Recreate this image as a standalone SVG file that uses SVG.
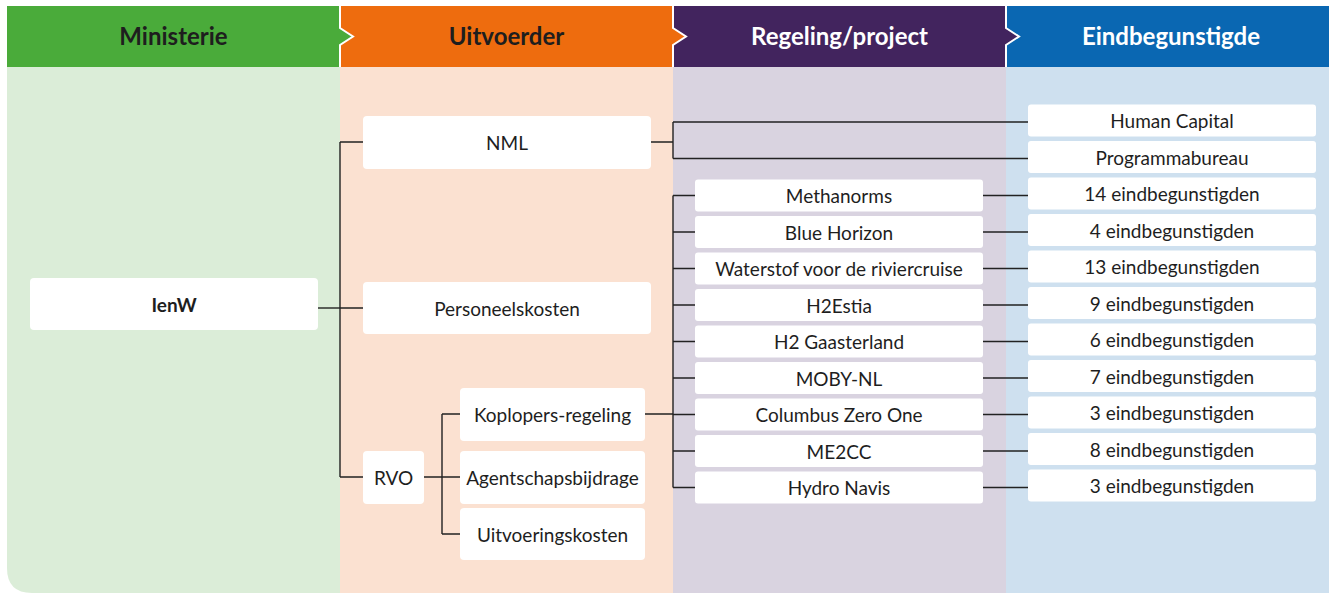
<svg xmlns="http://www.w3.org/2000/svg" width="1329" height="593" viewBox="0 0 1329 593">
<style>
.hd{font-family:Lato,"Liberation Sans",sans-serif;font-weight:bold;font-size:24px;text-anchor:middle}
.box{fill:#ffffff}
.t{font-family:Lato,"Liberation Sans",sans-serif;font-size:19px;fill:#1e1e1e;text-anchor:middle;dominant-baseline:central}
.b{font-weight:bold}
.sep{fill:none;stroke:#ffffff;stroke-width:2}
#connectors path{fill:none;stroke:#222222;stroke-width:1.4}
</style>
<!-- body backgrounds -->
<path d="M7,67 H340 V593 H32 Q7,593 7,568 Z" fill="#dbedd8"/>
<rect x="340" y="67" width="333" height="526" fill="#fbe1d1"/>
<rect x="673" y="67" width="333" height="526" fill="#d9d3e0"/>
<rect x="1006" y="67" width="323" height="526" fill="#cee0ef"/>
<!-- headers -->
<g id="header-ministerie">
<rect x="7" y="6" width="333" height="61" fill="#4aab3a"/>
<text class="hd" x="173.5" y="45" fill="#1e1e1e">Ministerie</text>
</g>
<g id="header-uitvoerder">
<rect x="340" y="6" width="333" height="61" fill="#ee6c0e"/>
<polygon points="340,28 353,36.5 340,45" fill="#4aab3a"/>
<text class="hd" x="506.5" y="45" fill="#1e1e1e">Uitvoerder</text>
</g>
<g id="header-regeling">
<rect x="673" y="6" width="333" height="61" fill="#42245e"/>
<polygon points="673,28 686,36.5 673,45" fill="#ee6c0e"/>
<text class="hd" x="839.5" y="45" fill="#ffffff">Regeling/project</text>
</g>
<g id="header-eindbegunstigde">
<rect x="1006" y="6" width="323" height="61" fill="#0a67b2"/>
<polygon points="1006,28 1019,36.5 1006,45" fill="#42245e"/>
<text class="hd" x="1171" y="45" fill="#ffffff">Eindbegunstigde</text>
</g>
<path class="sep" d="M340,6 V28 L353,36.5 L340,45 V67"/>
<path class="sep" d="M673,6 V28 L686,36.5 L673,45 V67"/>
<path class="sep" d="M1006,6 V28 L1019,36.5 L1006,45 V67"/>

<g id="connectors">
<path d="M318,308 H340"/>
<path d="M340,142 V477"/>
<path d="M340,142 H363 M340,308 H363 M340,477 H363"/>
<path d="M424,477 H442 M442,414 V534 M442,414 H460 M442,477 H460 M442,534 H460"/>
<path d="M651,142 H673 M673,122 V158.5 M673,122 H1028 M673,158.5 H1028"/>
<path d="M645,414 H673 M673,195.5 V487.5"/>
<path d="M673,195.5 H695 M673,232 H695 M673,268.5 H695 M673,305 H695 M673,341.5 H695 M673,378 H695 M673,414.5 H695 M673,451 H695 M673,487.5 H695"/>
<path d="M983,195.5 H1028 M983,232 H1028 M983,268.5 H1028 M983,305 H1028 M983,341.5 H1028 M983,378 H1028 M983,414.5 H1028 M983,451 H1028 M983,487.5 H1028"/>
</g>

<g id="ienw"><rect class="box" x="30" y="278" width="288" height="52" rx="4"/><text class="t b" x="174" y="304">IenW</text></g>
<g id="nml"><rect class="box" x="363" y="116" width="288" height="53" rx="4"/><text class="t" x="507" y="142.5">NML</text></g>
<g id="personeelskosten"><rect class="box" x="363" y="282" width="288" height="52" rx="4"/><text class="t" x="507" y="308">Personeelskosten</text></g>
<g id="rvo"><rect class="box" x="363" y="451" width="61" height="53" rx="4"/><text class="t" x="393.5" y="477.5">RVO</text></g>
<g id="koplopers"><rect class="box" x="460" y="388" width="185" height="53" rx="4"/><text class="t" x="552.5" y="414.5">Koplopers-regeling</text></g>
<g id="agentschapsbijdrage"><rect class="box" x="460" y="451" width="185" height="53" rx="4"/><text class="t" x="552.5" y="477.5">Agentschapsbijdrage</text></g>
<g id="uitvoeringskosten"><rect class="box" x="460" y="508" width="185" height="52" rx="4"/><text class="t" x="552.5" y="534">Uitvoeringskosten</text></g>

<g id="methanorms"><rect class="box" x="695" y="179.5" width="288" height="32" rx="3"/><text class="t" x="839" y="195.5">Methanorms</text></g>
<g id="blue-horizon"><rect class="box" x="695" y="216" width="288" height="32" rx="3"/><text class="t" x="839" y="232">Blue Horizon</text></g>
<g id="waterstof"><rect class="box" x="695" y="252.5" width="288" height="32" rx="3"/><text class="t" x="839" y="268.5">Waterstof voor de riviercruise</text></g>
<g id="h2estia"><rect class="box" x="695" y="289" width="288" height="32" rx="3"/><text class="t" x="839" y="305">H2Estia</text></g>
<g id="h2-gaasterland"><rect class="box" x="695" y="325.5" width="288" height="32" rx="3"/><text class="t" x="839" y="341.5">H2 Gaasterland</text></g>
<g id="moby-nl"><rect class="box" x="695" y="362" width="288" height="32" rx="3"/><text class="t" x="839" y="378">MOBY-NL</text></g>
<g id="columbus"><rect class="box" x="695" y="398.5" width="288" height="32" rx="3"/><text class="t" x="839" y="414.5">Columbus Zero One</text></g>
<g id="me2cc"><rect class="box" x="695" y="435" width="288" height="32" rx="3"/><text class="t" x="839" y="451">ME2CC</text></g>
<g id="hydro-navis"><rect class="box" x="695" y="471.5" width="288" height="32" rx="3"/><text class="t" x="839" y="487.5">Hydro Navis</text></g>

<g id="human-capital"><rect class="box" x="1028" y="104.5" width="288" height="32" rx="3"/><text class="t" x="1172" y="120.5">Human Capital</text></g>
<g id="programmabureau"><rect class="box" x="1028" y="141" width="288" height="32" rx="3"/><text class="t" x="1172" y="157">Programmabureau</text></g>
<g id="eb-methanorms"><rect class="box" x="1028" y="177.5" width="288" height="32" rx="3"/><text class="t" x="1172" y="193.5">14 eindbegunstigden</text></g>
<g id="eb-blue-horizon"><rect class="box" x="1028" y="214" width="288" height="32" rx="3"/><text class="t" x="1172" y="230">4 eindbegunstigden</text></g>
<g id="eb-waterstof"><rect class="box" x="1028" y="250.5" width="288" height="32" rx="3"/><text class="t" x="1172" y="266.5">13 eindbegunstigden</text></g>
<g id="eb-h2estia"><rect class="box" x="1028" y="287" width="288" height="32" rx="3"/><text class="t" x="1172" y="303">9 eindbegunstigden</text></g>
<g id="eb-h2-gaasterland"><rect class="box" x="1028" y="323.5" width="288" height="32" rx="3"/><text class="t" x="1172" y="339.5">6 eindbegunstigden</text></g>
<g id="eb-moby-nl"><rect class="box" x="1028" y="360" width="288" height="32" rx="3"/><text class="t" x="1172" y="376">7 eindbegunstigden</text></g>
<g id="eb-columbus"><rect class="box" x="1028" y="396.5" width="288" height="32" rx="3"/><text class="t" x="1172" y="412.5">3 eindbegunstigden</text></g>
<g id="eb-me2cc"><rect class="box" x="1028" y="433" width="288" height="32" rx="3"/><text class="t" x="1172" y="449">8 eindbegunstigden</text></g>
<g id="eb-hydro-navis"><rect class="box" x="1028" y="469.5" width="288" height="32" rx="3"/><text class="t" x="1172" y="485.5">3 eindbegunstigden</text></g>
</svg>
